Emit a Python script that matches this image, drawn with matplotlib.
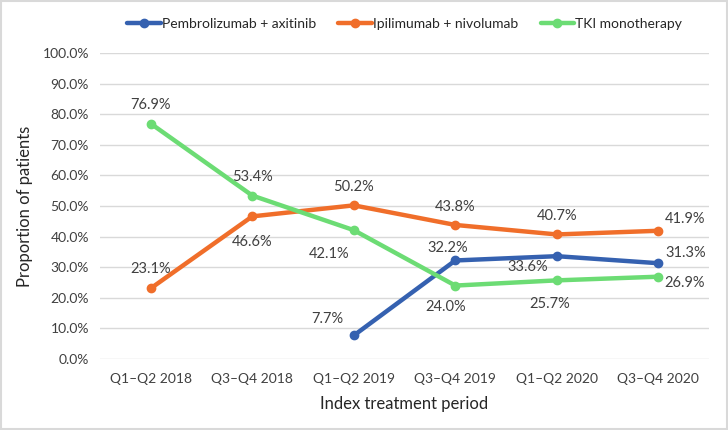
import numpy as np
import matplotlib.pyplot as plt
from matplotlib.patches import Rectangle

plt.rcParams['font.family'] = ['Lato', 'DejaVu Sans']

periods = ['Q1–Q2 2018', 'Q3–Q4 2018', 'Q1–Q2 2019', 'Q3–Q4 2019', 'Q1–Q2 2020', 'Q3–Q4 2020']
pembro = [np.nan, np.nan, 7.7, 32.2, 33.6, 31.3]
ipi_nivo = [23.1, 46.6, 50.2, 43.8, 40.7, 41.9]
tki = [76.9, 53.4, 42.1, 24.0, 25.7, 26.9]

names = ['Pembrolizumab + axitinib', 'Ipilimumab + nivolumab', 'TKI monotherapy']
colors = ['#3561B0', '#F06E2A', '#6CDC74']

# label offsets in pixels (dx, dy) for each point
off_pembro = [None, None, (-26, 16), (-8, 12), (-29, -11), (27, 10)]
off_ipi = [(0, 19), (0, -26), (0, 18), (0, 18), (0, 18), (27, 12)]
off_tki = [(0, 19), (0, 19), (-25, -24), (-10, -21), (-7, -24), (26, -6)]

fig = plt.figure(figsize=(7.28, 4.30), dpi=100)
ax = fig.add_axes([0.1374, 0.165, 0.8366, 0.712])

x = np.arange(len(periods))
series = [(pembro, off_pembro), (ipi_nivo, off_ipi), (tki, off_tki)]
for (vals, offs), name, c in zip(series, names, colors):
    ax.plot(x, vals, color=c, lw=3.2, marker='o', ms=6, label=name,
            solid_capstyle='round', zorder=3)
    for xi, v, o in zip(x, vals, offs):
        if o is None or np.isnan(v):
            continue
        ax.annotate(f'{v:.1f}%', (xi, v), xytext=o, textcoords='offset pixels',
                    ha='center', va='center', fontsize=10.5, color='#404040')

ax.set_xlim(-0.5, len(periods) - 0.5)
ax.set_ylim(0, 100)
ax.set_yticks(np.arange(0, 101, 10))
ax.set_yticklabels([f'{t:.1f}%' for t in range(0, 101, 10)])
ax.set_xticks(x)
ax.set_xticklabels(periods)
ax.tick_params(length=0, labelsize=10, labelcolor='#404040', pad=10)
ax.tick_params(axis='y', pad=8)
ax.grid(axis='y', color='#d9d9d9', lw=1)
ax.set_axisbelow(True)
for s in ax.spines.values():
    s.set_visible(False)

ax.set_xlabel('Index treatment period', fontsize=12, color='#262626', labelpad=8)
ax.set_ylabel('Proportion of patients', fontsize=12, color='#262626')
ax.yaxis.set_label_coords(-0.11, 0.5)

fig.legend(loc='center', bbox_to_anchor=(0.556, 0.944), ncol=3, frameon=False,
           fontsize=10, handlelength=2.4, columnspacing=1.6, handletextpad=0.1,
           labelcolor='#262626')

fig.patches.append(Rectangle((0.002, 0.002), 0.996, 0.996, transform=fig.transFigure,
                             fill=False, edgecolor='#d9d9d9', lw=1.5))

fig.savefig('out.png', dpi=100)
